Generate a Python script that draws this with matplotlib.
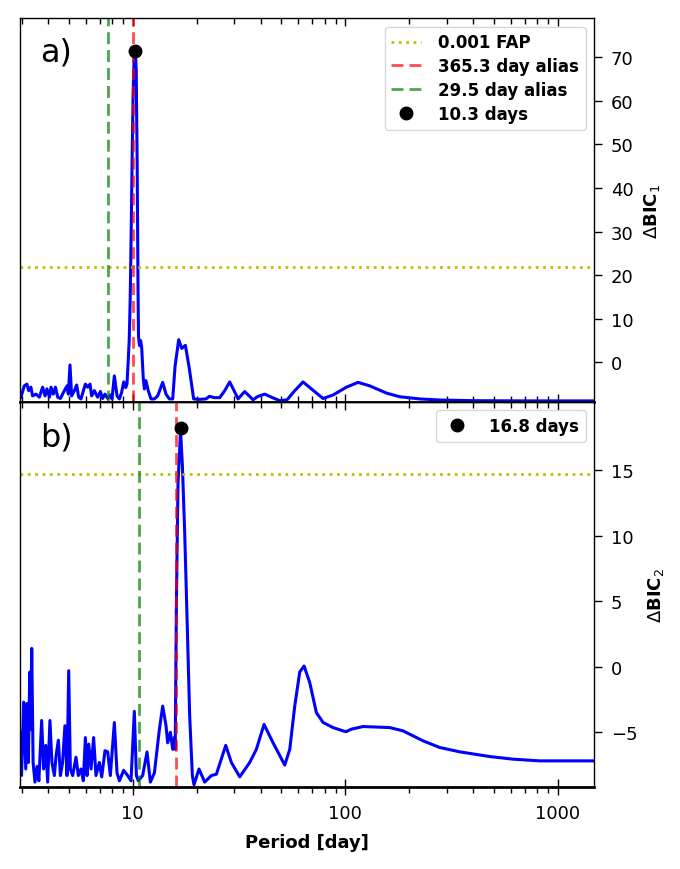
import matplotlib
matplotlib.use("Agg")
import matplotlib.pyplot as plt
from matplotlib.ticker import FixedLocator, LogLocator, FuncFormatter, NullFormatter

# ---------------- data ----------------
period_a = [2.98, 3.09, 3.18, 3.24, 3.32, 3.38, 3.51, 3.64, 3.77, 3.87, 3.95, 4.06, 4.13,
            4.23, 4.33, 4.44, 4.57, 4.77, 4.91, 4.98, 5.07, 5.16, 5.32, 5.45, 5.57, 5.71,
            5.99, 6.14, 6.30, 6.41, 6.60, 6.84, 7.05, 7.22, 7.41, 7.63, 7.86, 7.99, 8.20,
            8.44, 8.66, 8.87, 9.07, 9.27, 9.40, 9.52, 9.63, 9.73, 9.84, 9.95, 10.05, 10.16,
            10.30, 10.39, 10.50, 10.59, 10.65, 10.72, 10.79, 10.90, 11.02, 11.21, 11.35,
            11.54, 11.84, 12.19, 12.65, 13.11, 13.84, 14.35, 14.88, 15.43, 15.82, 16.46,
            17.01, 17.70, 18.48, 19.36, 20.59, 22.13, 22.96, 24.23, 25.67, 27.10, 28.61,
            29.99, 31.32, 33.66, 36.85, 38.90, 41.81, 44.92, 49.19, 53.25, 57.87, 63.34,
            69.31, 78.66, 87.63, 101.3, 114.9, 130.4, 156.2, 180.5, 224.2, 280.0, 400.0,
            700.0, 1480.0]
dbic_a = [-8.0, -5.4, -5.0, -6.5, -5.7, -7.7, -7.3, -8.0, -5.7, -7.7, -6.1, -8.0, -5.7,
          -7.3, -5.7, -8.0, -8.3, -6.5, -5.4, -7.3, -0.6, -7.7, -6.5, -5.2, -8.0, -8.4,
          -5.0, -5.7, -5.0, -7.7, -6.5, -8.0, -6.7, -8.3, -7.3, -8.3, -7.5, -8.4, -3.1,
          -7.7, -8.4, -6.9, -4.5, -5.8, -5.0, 0.0, 5.0, 14.0, 30.0, 48.0, 62.0, 70.0,
          71.4, 67.0, 45.0, 18.0, 6.0, 4.5, 3.8, 5.0, 3.5, -3.5, -6.1,
          -4.2, -6.5, -8.4, -8.4, -7.7, -4.6, -7.3, -8.4, -8.4, -1.0, 5.2,
          3.2, 3.9, -1.5, -8.4, -8.5, -8.4, -7.8, -8.1, -8.1, -6.5, -4.5,
          -6.5, -8.4, -6.7, -8.6, -7.8, -7.3, -8.0, -8.8, -8.6, -6.5, -4.5,
          -6.1, -8.3, -7.5, -5.7, -4.6, -5.4, -7.05, -7.9, -8.4, -8.65, -8.8,
          -8.85, -8.85]

period_b = [2.96, 3.00, 3.07, 3.14, 3.18, 3.23, 3.28, 3.31, 3.35, 3.40, 3.47, 3.55, 3.62,
            3.73, 3.81, 3.90, 3.98, 4.08, 4.17, 4.28, 4.36, 4.47, 4.57, 4.68, 4.80, 4.91,
            5.00, 5.09, 5.22, 5.41, 5.55, 5.71, 5.86, 5.99, 6.10, 6.21, 6.37, 6.55, 6.72,
            6.97, 7.15, 7.41, 7.63, 7.85, 8.20, 8.44, 8.66, 9.07, 9.47, 9.82, 10.18, 10.41,
            10.63, 11.14, 11.68, 12.11, 12.65, 13.35, 13.84, 14.35, 14.61, 15.04, 15.43,
            15.71, 15.85, 16.06, 16.34, 16.80, 17.14, 17.57, 18.01, 18.54, 19.09, 19.43,
            20.51, 21.82, 23.45, 24.76, 27.40, 29.13, 31.89, 35.53, 38.18, 41.50, 45.75,
            51.93, 54.82, 57.87, 61.08, 64.02, 68.07, 73.15, 78.66, 87.63, 97.68, 101.0,
            106.9, 121.3, 162.0, 187.1, 232.3, 278.4, 345.7, 478.6, 616.3, 822.9, 1480.0]
dbic_b = [-5.0, -8.3, -2.7, -7.8, -2.8, -7.3, -0.4, -4.8, 1.4, -7.3, -8.8, -7.6, -8.7,
          -4.1, -7.8, -6.0, -8.8, -4.1, -7.3, -8.3, -6.8, -5.6, -8.3, -7.3, -4.5, -8.3,
          -0.3, -7.8, -8.3, -6.9, -8.3, -7.8, -8.7, -5.4, -8.3, -5.9, -7.8, -5.4, -8.3,
          -7.3, -8.4, -6.4, -6.5, -8.3, -4.25, -8.1, -8.7, -7.9, -8.3, -8.7, -3.4, -8.3,
          -8.7, -8.3, -6.5, -8.8, -8.1, -4.8, -3.0, -4.5, -5.8, -5.0, -6.3,
          -5.4, -6.3, 5.0, 14.0, 18.0, 15.3, 10.2, 3.9, -3.75, -8.3, -9.0,
          -7.8, -8.8, -8.3, -8.2, -6.0, -7.3, -8.4, -7.3, -6.3, -4.4, -5.8,
          -7.5, -6.3, -3.0, -0.4, 0.06, -1.2, -3.5, -4.25, -4.64, -4.89, -4.95,
          -4.76, -4.56, -4.64, -4.89, -5.65, -6.16, -6.49, -6.85, -7.05, -7.18, -7.18]

fap_a, fap_b = 21.8, 14.7
best_a, peak_a = 10.3, 71.4
best_b, peak_b = 16.8, 18.2
alias365_a, alias29_a = 10.02, 7.63
alias365_b, alias29_b = 16.06, 10.70

xticks = [10, 100, 1000]
yticks_a = [0, 10, 20, 30, 40, 50, 60, 70]
yticks_b = [-5, 0, 5, 10, 15]
xlim = (2.95, 1480)
ylim_a = (-9.1, 78.9)
ylim_b = (-9.17, 20.2)

DASH = (0, (4.3, 2.15))

# ---------------- figure ----------------
fig = plt.figure(figsize=(6.8, 8.7), dpi=100)
ax1 = fig.add_axes([0.0294, 0.5368, 0.8441, 0.4408])
ax2 = fig.add_axes([0.0294, 0.0943, 0.8441, 0.4425])


def panel(ax, period, dbic, fap, a365, a29, best, peak, label):
    ax.plot(period, dbic, color='b', lw=2.2, zorder=2)
    ax.axhline(fap, color='y', ls=':', lw=2, label='0.001 FAP')
    ax.axvline(a365, color='r', ls=DASH, lw=2, alpha=0.7, label='365.3 day alias')
    ax.axvline(a29, color='g', ls=DASH, lw=2, alpha=0.7, label='29.5 day alias')
    ax.plot([best], [peak], 'o', color='k', ms=9, zorder=4, label=label)
    ax.set_xscale('log')
    ax.set_xlim(*xlim)
    ax.xaxis.set_major_locator(FixedLocator(xticks))
    ax.xaxis.set_minor_locator(LogLocator(base=10, subs=range(2, 10)))
    ax.yaxis.tick_right()
    ax.yaxis.set_label_position('right')
    ax.tick_params(axis='y', direction='out', length=6, width=1, pad=6,
                   labelsize=13, left=False, right=True)
    for s in ax.spines.values():
        s.set_color('black')
        s.set_linewidth(1.0)
    ax.spines['bottom'].set_linewidth(2.0)


panel(ax1, period_a, dbic_a, fap_a, alias365_a, alias29_a, best_a, peak_a, '10.3 days')
panel(ax2, period_b, dbic_b, fap_b, alias365_b, alias29_b, best_b, peak_b, '16.8 days')

ax1.set_ylim(*ylim_a)
ax1.set_yticks(yticks_a)
ax2.set_ylim(*ylim_b)
ax2.set_yticks(yticks_b)

# x ticks: panel a inward on both sides, no labels
ax1.tick_params(axis='x', which='major', direction='in', length=6, width=1,
                top=True, bottom=True, labelbottom=False)
ax1.tick_params(axis='x', which='minor', direction='in', length=4, width=1,
                top=True, bottom=True, labelbottom=False)
ax1.xaxis.set_minor_formatter(NullFormatter())

# panel b: bottom ticks crossing / outward, top ticks inward
ax2.tick_params(axis='x', which='major', direction='inout', length=11, width=1,
                top=False, bottom=True, labelsize=13, pad=7)
ax2.tick_params(axis='x', which='minor', direction='out', length=4, width=1,
                top=False, bottom=True)
ax2.xaxis.set_major_formatter(FuncFormatter(lambda v, p: f'{v:g}'))
ax2.xaxis.set_minor_formatter(NullFormatter())
sec = ax2.secondary_xaxis('top')
sec.tick_params(axis='x', which='major', direction='in', length=6, width=1, labeltop=False)
sec.tick_params(axis='x', which='minor', direction='in', length=4, width=1, labeltop=False)
sec.xaxis.set_major_locator(FixedLocator(xticks))
sec.xaxis.set_minor_locator(LogLocator(base=10, subs=range(2, 10)))
sec.spines['top'].set_linewidth(1.0)

ax1.set_ylabel(r'$\Delta$BIC$_1$', fontsize=13, fontweight='bold', labelpad=6)
ax2.set_ylabel(r'$\Delta$BIC$_2$', fontsize=13, fontweight='bold', labelpad=6)
ax2.set_xlabel('Period [day]', fontsize=13, fontweight='bold', labelpad=8)

ax1.text(0.035, 0.89, 'a)', transform=ax1.transAxes, fontsize=23, va='baseline')
ax2.text(0.035, 0.886, 'b)', transform=ax2.transAxes, fontsize=23, va='baseline')

ax1.legend(loc='upper right', prop={'weight': 'bold', 'size': 12}, labelspacing=0.35,
           handlelength=1.8, handletextpad=1.0)
h, l = ax2.get_legend_handles_labels()
ax2.legend([h[-1]], [l[-1]], loc='upper right', prop={'weight': 'bold', 'size': 12},
           handlelength=1.8, handletextpad=1.0)

fig.savefig('out.png', dpi=100)
